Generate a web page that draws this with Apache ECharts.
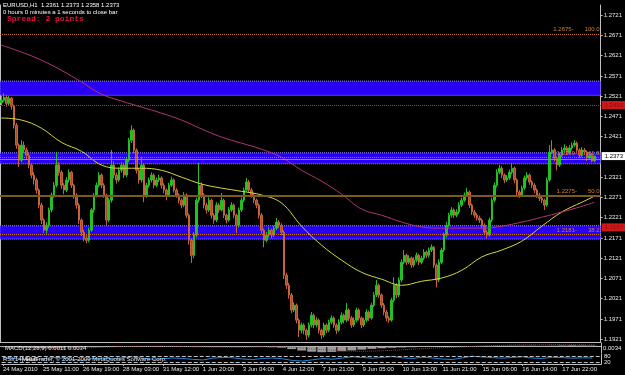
<!DOCTYPE html>
<html><head><meta charset="utf-8">
<script src="https://cdn.jsdelivr.net/npm/echarts@6/dist/echarts.min.js"></script>
<style>html,body{margin:0;padding:0;background:#000;}#c{width:625px;height:375px;}</style>
</head><body><div id="c"></div>
<script>
// EURUSD H1, resampled to 2-hour bars (open = previous close)
const firstOpen = 1.2505;
const closes = [
1.2511,1.2518,1.2503,1.2516,1.2496,1.2449,1.2400,1.2363,1.2400,1.2388,
1.2375,1.2351,1.2326,1.2314,1.2289,1.2252,1.2215,1.2190,1.2202,1.2240,
1.2277,1.2301,1.2351,1.2333,1.2301,1.2289,1.2314,1.2333,1.2301,1.2277,
1.2252,1.2215,1.2185,1.2170,1.2165,1.2190,1.2240,1.2277,1.2301,1.2326,
1.2301,1.2277,1.2215,1.2264,1.2351,1.2326,1.2314,1.2338,1.2351,1.2326,
1.2363,1.2412,1.2437,1.2388,1.2338,1.2314,1.2351,1.2277,1.2301,1.2314,
1.2326,1.2301,1.2314,1.2319,1.2301,1.2289,1.2277,1.2301,1.2314,1.2289,
1.2277,1.2264,1.2252,1.2277,1.2227,1.2165,1.2128,1.2178,1.2264,1.2301,
1.2277,1.2252,1.2240,1.2264,1.2227,1.2215,1.2252,1.2240,1.2264,1.2227,
1.2215,1.2240,1.2252,1.2227,1.2202,1.2240,1.2264,1.2289,1.2309,1.2289,
1.2277,1.2264,1.2252,1.2227,1.2190,1.2165,1.2178,1.2190,1.2178,1.2195,
1.2210,1.2202,1.2185,1.2079,1.2054,1.2030,1.1993,1.2005,1.1968,1.1943,
1.1956,1.1943,1.1931,1.1956,1.1980,1.1956,1.1968,1.1943,1.1931,1.1956,
1.1943,1.1963,1.1973,1.1956,1.1943,1.1963,1.1980,1.1968,1.1993,1.1973,
1.1956,1.1968,1.1993,1.1973,1.1956,1.1968,1.1988,1.1973,1.2005,1.2030,
1.2054,1.2030,1.2005,1.1988,1.1973,1.1968,1.2017,1.2054,1.2030,1.2067,
1.2111,1.2128,1.2111,1.2121,1.2104,1.2116,1.2128,1.2111,1.2121,1.2136,
1.2128,1.2141,1.2148,1.2104,1.2067,1.2111,1.2141,1.2178,1.2202,1.2227,
1.2240,1.2227,1.2235,1.2252,1.2264,1.2277,1.2284,1.2252,1.2235,1.2227,
1.2220,1.2215,1.2202,1.2185,1.2178,1.2215,1.2264,1.2301,1.2333,1.2343,
1.2326,1.2314,1.2319,1.2333,1.2343,1.2314,1.2284,1.2277,1.2294,1.2319,
1.2326,1.2309,1.2301,1.2289,1.2277,1.2269,1.2264,1.2252,1.2314,1.2383,
1.2388,1.2368,1.2351,1.2375,1.2388,1.2393,1.2383,1.2393,1.2400,1.2405,
1.2388,1.2375,1.2388,1.2383,1.2368,1.2375,1.2361,1.2373];
const highs = [
1.2522,1.2528,1.2524,1.2521,1.2519,1.2500,1.2455,1.2404,1.2412,1.2409,
1.2394,1.2380,1.2356,1.2333,1.2319,1.2293,1.2258,1.2219,1.2210,1.2246,
1.2283,1.2309,1.2383,1.2358,1.2338,1.2306,1.2321,1.2340,1.2336,1.2305,
1.2281,1.2257,1.2219,1.2191,1.2178,1.2196,1.2245,1.2282,1.2308,1.2333,
1.2330,1.2306,1.2280,1.2270,1.2388,1.2360,1.2332,1.2345,1.2358,1.2356,
1.2370,1.2418,1.2449,1.2441,1.2392,1.2343,1.2370,1.2355,1.2307,1.2320,
1.2333,1.2330,1.2320,1.2327,1.2323,1.2306,1.2293,1.2307,1.2322,1.2318,
1.2294,1.2281,1.2269,1.2284,1.2281,1.2231,1.2170,1.2185,1.2270,1.2356,
1.2308,1.2282,1.2258,1.2271,1.2268,1.2232,1.2259,1.2257,1.2282,1.2268,
1.2231,1.2247,1.2259,1.2256,1.2231,1.2246,1.2271,1.2295,1.2319,1.2314,
1.2294,1.2282,1.2268,1.2256,1.2232,1.2194,1.2185,1.2197,1.2194,1.2201,
1.2220,1.2215,1.2207,1.2190,1.2085,1.2060,1.2035,1.2012,1.2009,1.1972,
1.1962,1.1960,1.1947,1.1962,1.1988,1.1984,1.1975,1.1972,1.1947,1.1962,
1.1960,1.1969,1.1980,1.1977,1.1960,1.1970,1.1987,1.1984,1.2010,1.1997,
1.1978,1.1975,1.1999,1.1997,1.1977,1.1974,1.1995,1.1992,1.2011,1.2037,
1.2067,1.2058,1.2034,1.2010,1.1993,1.1978,1.2023,1.2074,1.2059,1.2073,
1.2118,1.2141,1.2132,1.2128,1.2125,1.2123,1.2135,1.2132,1.2127,1.2143,
1.2140,1.2147,1.2155,1.2151,1.2108,1.2118,1.2147,1.2184,1.2210,1.2233,
1.2247,1.2244,1.2242,1.2259,1.2270,1.2283,1.2294,1.2288,1.2256,1.2240,
1.2232,1.2226,1.2219,1.2207,1.2190,1.2221,1.2270,1.2308,1.2340,1.2351,
1.2348,1.2330,1.2326,1.2340,1.2356,1.2347,1.2318,1.2289,1.2300,1.2325,
1.2333,1.2330,1.2313,1.2306,1.2293,1.2282,1.2274,1.2268,1.2320,1.2400,
1.2412,1.2393,1.2372,1.2382,1.2396,1.2402,1.2398,1.2400,1.2407,1.2412,
1.2409,1.2392,1.2395,1.2393,1.2387,1.2382,1.2380,1.2373];
const lows = [
1.2498,1.2506,1.2495,1.2499,1.2488,1.2441,1.2391,1.2346,1.2358,1.2380,
1.2366,1.2343,1.2318,1.2303,1.2280,1.2244,1.2205,1.2183,1.2181,1.2196,
1.2234,1.2270,1.2296,1.2325,1.2292,1.2279,1.2284,1.2308,1.2294,1.2268,
1.2243,1.2206,1.2176,1.2162,1.2158,1.2160,1.2186,1.2233,1.2271,1.2296,
1.2294,1.2270,1.2202,1.2210,1.2258,1.2318,1.2305,1.2309,1.2332,1.2319,
1.2321,1.2358,1.2405,1.2380,1.2330,1.2305,1.2308,1.2259,1.2270,1.2295,
1.2308,1.2294,1.2296,1.2309,1.2293,1.2281,1.2264,1.2272,1.2297,1.2283,
1.2270,1.2256,1.2244,1.2247,1.2220,1.2155,1.2109,1.2121,1.2172,1.2258,
1.2269,1.2244,1.2231,1.2235,1.2219,1.2206,1.2210,1.2233,1.2236,1.2220,
1.2207,1.2211,1.2235,1.2220,1.2183,1.2197,1.2235,1.2259,1.2284,1.2282,
1.2270,1.2257,1.2244,1.2219,1.2181,1.2148,1.2160,1.2172,1.2170,1.2173,
1.2190,1.2195,1.2178,1.2070,1.2045,1.2021,1.1985,1.1988,1.1960,1.1926,
1.1935,1.1933,1.1919,1.1925,1.1950,1.1948,1.1950,1.1935,1.1922,1.1926,
1.1936,1.1938,1.1958,1.1949,1.1934,1.1939,1.1958,1.1960,1.1963,1.1966,
1.1949,1.1951,1.1963,1.1967,1.1948,1.1951,1.1963,1.1966,1.1969,1.2000,
1.2025,1.2023,1.1998,1.1980,1.1965,1.1961,1.1964,1.2012,1.2022,1.2025,
1.2062,1.2106,1.2104,1.2106,1.2097,1.2099,1.2111,1.2104,1.2106,1.2116,
1.2121,1.2123,1.2136,1.2097,1.2049,1.2062,1.2106,1.2136,1.2172,1.2197,
1.2221,1.2220,1.2222,1.2230,1.2247,1.2259,1.2272,1.2245,1.2228,1.2220,
1.2214,1.2208,1.2195,1.2178,1.2170,1.2174,1.2210,1.2259,1.2296,1.2328,
1.2319,1.2306,1.2309,1.2314,1.2328,1.2306,1.2277,1.2270,1.2272,1.2289,
1.2313,1.2302,1.2294,1.2282,1.2270,1.2262,1.2257,1.2240,1.2248,1.2310,
1.2378,1.2360,1.2338,1.2346,1.2370,1.2384,1.2376,1.2378,1.2387,1.2396,
1.2381,1.2368,1.2370,1.2376,1.2361,1.2363,1.2358,1.2358];

const slotCount = 240;
const barsPerLabel = 16;
const timeLabels = ['24 May 2010','25 May 11:00','26 May 19:00','28 May 03:00','31 May 12:00','1 Jun 20:00','3 Jun 04:00','4 Jun 12:00','7 Jun 21:00','9 Jun 05:00','10 Jun 13:00','11 Jun 21:00','15 Jun 06:00','16 Jun 14:00','17 Jun 22:00'];
const priceTicks = [1.1921,1.1971,1.2021,1.2071,1.2121,1.2171,1.2221,1.2271,1.2321,1.2421,1.2471,1.2521,1.2571,1.2621,1.2671,1.2721];
const priceMin = 1.1914, priceMax = 1.2746;

// moving averages, sampled bars
const maBars = [0,8,16,24,32,40,48,56,64,72,80,88,96,104,112,120,128,136,144,152,160,168,176,184,192,200,208,216,224,232,237];
const yellowMA = [1.2467,1.2462,1.2442,1.2407,1.2385,1.2351,1.2343,1.2343,1.2338,1.2321,1.2304,1.2294,1.2286,1.2277,1.2257,1.2200,1.2153,1.2116,1.2086,1.2069,1.2054,1.2064,1.2072,1.2091,1.2124,1.2141,1.2163,1.2200,1.2235,1.2259,1.2274];
const magentaMA = [1.2647,1.2630,1.2610,1.2585,1.2556,1.2526,1.2509,1.2494,1.2479,1.2462,1.2440,1.2420,1.2405,1.2390,1.2370,1.2338,1.2311,1.2279,1.2242,1.2227,1.2210,1.2198,1.2195,1.2195,1.2195,1.2200,1.2210,1.2222,1.2235,1.2249,1.2259];

// objects on chart
const zones = [[1.2558,1.2523],[1.2381,1.2354],[1.2201,1.2168]];
const fibLevels = [['1.2675','100.0'],['1.2369','61.8'],['1.2275','50.0'],['1.2181','38.2']];
const redLine = 1.2499;
const cyanLine = 1.2365;
const bidPrice = 1.2373;
const redBoxLevels = [1.2499, 1.2197];

// indicator windows
const subBars = [0,4,8,12,16,20,24,28,32,36,40,44,48,52,56,60,64,68,72,76,80,84,88,92,96,100,104,108,112,116,120,124,128,132,136,140,144,148,152,156,160,164,168,172,176,180,184,188,192,196,200,204,208,212,216,220,224,228,232,236];
const macdHist = [-0.0004,-0.0007,-0.0010,-0.0012,-0.0013,-0.0012,-0.0010,-0.0008,-0.0006,-0.0004,
-0.0002,0.0000,0.0002,0.0003,0.0002,0.0001,0.0000,-0.0001,-0.0002,-0.0003,
-0.0004,-0.0003,-0.0004,-0.0004,-0.0004,-0.0003,-0.0004,-0.0006,-0.0010,-0.0022,
-0.0034,-0.0044,-0.0048,-0.0046,-0.0040,-0.0033,-0.0026,-0.0020,-0.0015,-0.0011,
-0.0008,-0.0006,-0.0004,-0.0003,-0.0002,-0.0001,0.0002,0.0004,0.0005,0.0005,
0.0006,0.0007,0.0007,0.0007,0.0006,0.0007,0.0009,0.0010,0.0009,0.0008];
const macdSignal = [-0.0006,-0.0010,-0.0014,-0.0015,-0.0012,-0.0006,-0.0001,0.0002,0.0002,0.0000,-0.0003,-0.0005,-0.0006,-0.0003,-0.0003,-0.0012,-0.0026,-0.0036,-0.0040,-0.0036,-0.0028,-0.0018,-0.0010,-0.0003,0.0004,0.0010,0.0014,0.0015,0.0016,0.0015,0.0014];
const oscVals = [62,55,48,40,52,66,58,45,38,55,60,50,64,72,58,48,52,60,55,47,40,58,66,62,50,45,55,60,52,35,30,42,55,48,60,72,65,58,66,74,62,55,68,60,50,45,62,78,70,64,58,66,72,60,55,68,64,58,62,60];
const oscLevels = [20, 80];

const FONT = 'Liberation Sans';
const GRAY = '#c0c0c0';
const CLEAR = 'rgba(0,0,0,0)';
const cats = Array.from({length: slotCount}, (_, i) => 'b' + i);
const candleData = closes.map((c, i) => [i === 0 ? firstOpen : closes[i - 1], c, lows[i], highs[i]]);

function xAx(gi, labels) {
  return {
    type: 'category', gridIndex: gi, data: cats, boundaryGap: true,
    axisLine: {show: true, lineStyle: {color: GRAY, width: 1}},
    axisTick: labels ? {show: true, interval: barsPerLabel - 1, alignWithLabel: true, length: 2, lineStyle: {color: GRAY}} : {show: false},
    axisLabel: labels ? {
      show: true, interval: barsPerLabel - 1, align: 'left', margin: 2,
      color: '#e8e8e8', fontSize: 6, fontFamily: FONT,
      formatter: (v, idx) => timeLabels[idx / barsPerLabel] || ''
    } : {show: false},
    splitLine: {show: false}
  };
}

const fibData = fibLevels.map(([p, pct]) => ({
  yAxis: parseFloat(p),
  lineStyle: pct === '50.0' ? {color: '#7a5a1e', width: 2, type: 'solid'} : {color: '#c8782d', width: 1, type: 'dotted'},
  label: {
    show: true, position: 'insideEndTop', distance: 1,
    formatter: '{a|' + p + '-}{b|' + pct + '}',
    rich: {a: {color: '#d08038', fontSize: 6, fontFamily: FONT, padding: [0, 11, 0, 0]},
           b: {color: '#d08038', fontSize: 6, fontFamily: FONT}}
  }
}));

function boxLabel(v, bg, fg) {
  return {yAxis: v, lineStyle: {color: CLEAR, width: 0}, label: {show: true, position: 'end', distance: 1,
    formatter: v.toFixed(4), backgroundColor: bg, color: fg, fontSize: 6, padding: [1, 3, 1, 3], fontFamily: FONT}};
}

const option = {
  backgroundColor: '#000',
  animation: false,
  textStyle: {fontFamily: FONT},
  grid: [
    {left: 0, right: 24, top: 5, height: 337},
    {left: 0, right: 24, top: 343, height: 10},
    {left: 0, right: 24, top: 354, height: 10}
  ],
  xAxis: [xAx(0, false), xAx(1, false), xAx(2, true)],
  yAxis: [
    {type: 'value', gridIndex: 0, position: 'right', min: priceMin, max: priceMax,
     axisLine: {show: true, lineStyle: {color: GRAY}},
     axisTick: {show: true, customValues: priceTicks, length: 2, lineStyle: {color: GRAY}},
     axisLabel: {customValues: priceTicks, formatter: v => v.toFixed(4), color: '#e8e8e8', fontSize: 6, margin: 3, fontFamily: FONT},
     splitLine: {show: false}},
    {type: 'value', gridIndex: 0, position: 'left', min: priceMin, max: priceMax,
     axisLine: {show: true, lineStyle: {color: GRAY}}, axisTick: {show: false}, axisLabel: {show: false}, splitLine: {show: false}},
    {type: 'value', gridIndex: 1, position: 'right', min: -0.0055, max: 0.003,
     axisLine: {show: true, lineStyle: {color: GRAY}}, axisTick: {show: false}, axisLabel: {show: false}, splitLine: {show: false}},
    {type: 'value', gridIndex: 2, position: 'right', min: 0, max: 100,
     axisLine: {show: true, lineStyle: {color: GRAY}}, axisTick: {show: false},
     axisLabel: {customValues: oscLevels, color: '#e8e8e8', fontSize: 6, margin: 3, fontFamily: FONT},
     splitLine: {show: false}}
  ],
  series: [
    {type: 'line', name: 'zones', xAxisIndex: 0, yAxisIndex: 0, data: [], z: 1, silent: true,
     markArea: {silent: true,
       itemStyle: {color: '#2a00f5', borderColor: '#9090ff', borderWidth: 1, borderType: 'dotted'},
       data: zones.map(z => [{yAxis: z[0]}, {yAxis: z[1]}])}},
    {type: 'line', name: 'levels', xAxisIndex: 0, yAxisIndex: 0, data: [], z: 2, silent: true,
     markLine: {silent: true, symbol: 'none', precision: 5,
       data: fibData.concat([
         {yAxis: redLine, lineStyle: {color: '#d0204a', width: 1, type: 'dotted'}, label: {show: false}},
         {yAxis: cyanLine, lineStyle: {color: '#30b0d8', width: 1, type: 'solid'}, label: {show: false}}
       ])}},
    {type: 'candlestick', name: 'EURUSD', xAxisIndex: 0, yAxisIndex: 0, data: candleData, z: 3,
     barWidth: 2,
     itemStyle: {color: '#22c022', color0: '#a84c2a', borderColor: '#22c022', borderColor0: '#c8643c', borderWidth: 1}},
    {type: 'line', name: 'MA fast', xAxisIndex: 0, yAxisIndex: 0, z: 4, showSymbol: false, smooth: 0.4,
     data: maBars.map((b, k) => [b, yellowMA[k]]), lineStyle: {color: '#d6d63c', width: 1}},
    {type: 'line', name: 'MA slow', xAxisIndex: 0, yAxisIndex: 0, z: 4, showSymbol: false, smooth: 0.4,
     data: maBars.map((b, k) => [b, magentaMA[k]]), lineStyle: {color: '#b43278', width: 1}},
    {type: 'line', name: 'labels', xAxisIndex: 0, yAxisIndex: 0, data: [], z: 10, silent: true,
     markLine: {silent: true, symbol: 'none', precision: 5,
       data: redBoxLevels.map(v => boxLabel(v, '#d01818', '#8a1010')).concat([boxLabel(bidPrice, '#ffffff', '#000000')])}},
    {type: 'bar', name: 'MACD', xAxisIndex: 1, yAxisIndex: 2, barWidth: 9,
     data: subBars.map((b, k) => [b, macdHist[k]]), itemStyle: {color: '#9a9a9a'}},
    {type: 'line', name: 'Signal', xAxisIndex: 1, yAxisIndex: 2, showSymbol: false, smooth: 0.3,
     data: maBars.map((b, k) => [b, macdSignal[k]]), lineStyle: {color: '#e02828', width: 1, type: 'dotted'}},
    {type: 'line', name: 'RSI', xAxisIndex: 2, yAxisIndex: 3, showSymbol: false,
     data: subBars.map((b, k) => [b, oscVals[k]]), lineStyle: {color: '#2488e0', width: 1},
     markLine: {silent: true, symbol: 'none', precision: 2, label: {show: false},
       lineStyle: {color: GRAY, type: 'dashed', width: 1},
       data: oscLevels.map(v => ({yAxis: v}))}}
  ],
  graphic: [
    {type: 'text', left: 3, top: 2, z: 20, style: {text: 'EURUSD,H1  1.2361 1.2373 1.2358 1.2373', fill: '#ffffff', font: '6px "Liberation Sans"'}},
    {type: 'text', left: 3, top: 9, z: 20, style: {text: '0 hours 0 minutes a 1 seconds to close bar', fill: '#ffffff', font: '6px "Liberation Sans"'}},
    {type: 'text', left: 7, top: 15, z: 20, style: {text: 'Spread: 2 points', fill: '#e8103c', font: 'bold 8px "Liberation Mono"'}},
    {type: 'text', left: 5, top: 345, z: 20, style: {text: 'MACD(12,26,9) 0.0011 0.0034', fill: '#e8e8e8', font: '6px "Liberation Sans"'}},
    {type: 'text', left: 3, top: 356, z: 20, style: {text: 'RSI(14) 60.8', fill: '#e8e8e8', font: '6px "Liberation Sans"'}},
    {type: 'text', left: 22, top: 356, z: 20, style: {text: 'MetaTrader, © 2001-2009 MetaQuotes Software Corp.', fill: '#e8e8e8', font: '6px "Liberation Sans"'}},
    {type: 'text', left: 603, top: 345, z: 20, style: {text: '0.0034', fill: '#e8e8e8', font: '6px "Liberation Sans"'}}
  ]
};
const chart = echarts.init(document.getElementById('c'), null, {renderer: 'canvas'});
chart.setOption(option);
</script>
</body></html>
